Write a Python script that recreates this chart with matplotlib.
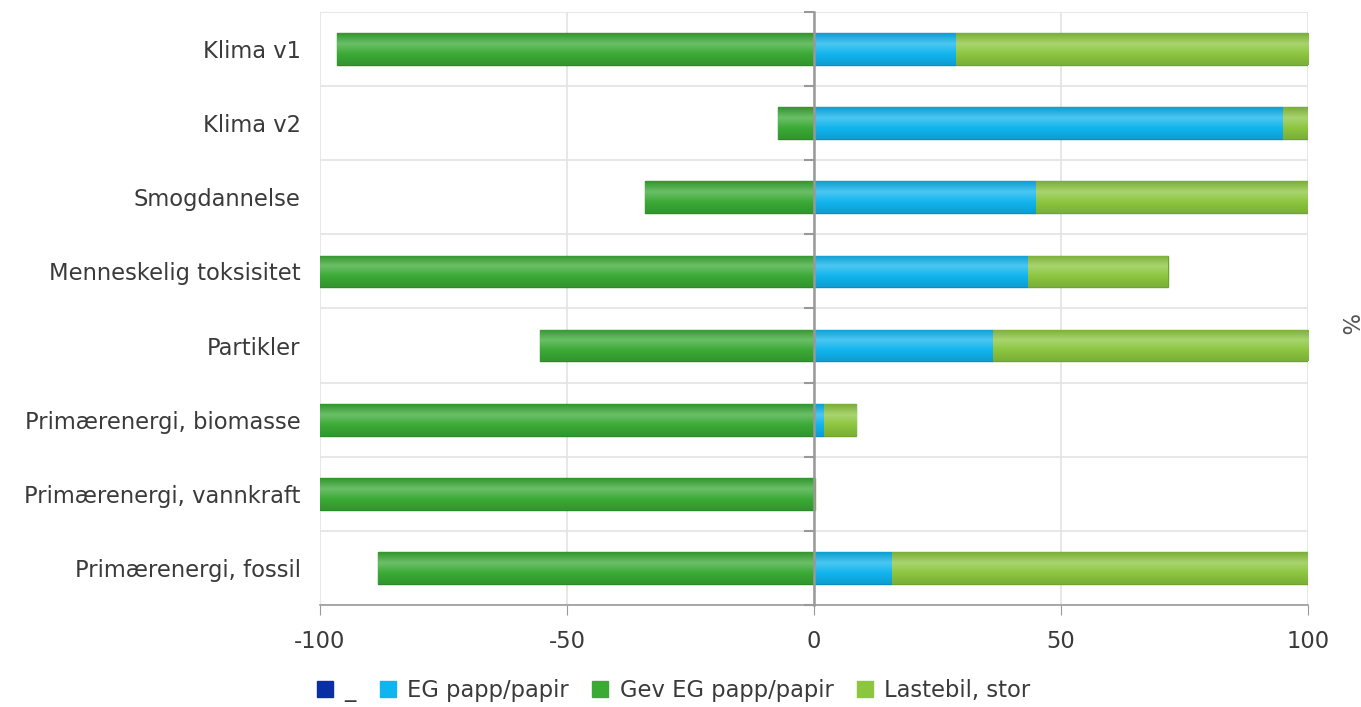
import numpy as np
import matplotlib
matplotlib.use("Agg")
import matplotlib.pyplot as plt
from matplotlib.colors import LinearSegmentedColormap, to_rgb
from matplotlib.lines import Line2D

plt.rcParams['font.family'] = ['DejaVu Sans']

categories = [
    "Klima v1",
    "Klima v2",
    "Smogdannelse",
    "Menneskelig toksisitet",
    "Partikler",
    "Primærenergi, biomasse",
    "Primærenergi, vannkraft",
    "Primærenergi, fossil",
]
series_names = ["_", "EG papp/papir", "Gev EG papp/papir", "Lastebil, stor"]
underscore_vals = [0, 0, 0, 0, 0, 0, 0, 0]
eg_papp = [28.7, 95.0, 45.0, 43.3, 36.2, 2.0, 0.0, 15.8]
gev_eg_papp = [-96.6, -7.3, -34.2, -100.0, -55.5, -100.0, -100.0, -88.3]
lastebil = [71.3, 5.0, 55.0, 28.3, 63.8, 6.5, 0.2, 84.2]
x_ticks = [-100, -50, 0, 50, 100]

colors = ["#0a2ea4", "#10b4ee", "#3aaa35", "#8cc63f"]
edge_colors = ["#071f70", "#0b8fc0", "#2b8a27", "#6fa52c"]

FS = 16.3
TXT = "#3a3a3a"

fig = plt.figure(figsize=(13.61, 7.07), dpi=100)
ax = fig.add_axes([0.2351, 0.1443, 0.9611 - 0.2351, 0.983 - 0.1443])

y = np.arange(len(categories))
h = 0.43


def shade(color):
    r, g, b = to_rgb(color)
    light = tuple(min(1, c + (1 - c) * 0.25) for c in (r, g, b))
    dark = tuple(c * 0.88 for c in (r, g, b))
    return LinearSegmentedColormap.from_list(
        "s", [dark, light, (r, g, b), dark])


def draw_bars(vals, left, color, edge):
    bars = ax.barh(y, vals, height=h, left=left, color=color,
                   edgecolor=edge, linewidth=1.0, zorder=3)
    cmap = shade(color)
    grad = np.linspace(0, 1, 64).reshape(-1, 1)
    for p in bars.patches:
        if abs(p.get_width()) < 1e-9:
            continue
        x0, y0 = p.get_x(), p.get_y()
        w, hh = p.get_width(), p.get_height()
        im = ax.imshow(grad, cmap=cmap, aspect="auto",
                       extent=[x0, x0 + w, y0 + hh, y0], zorder=3.5,
                       interpolation="bicubic")
        im.set_clip_path(p)
    return bars


pos_left = np.zeros(len(categories))
draw_bars(underscore_vals, pos_left, colors[0], edge_colors[0])
draw_bars(eg_papp, pos_left, colors[1], edge_colors[1])
draw_bars(gev_eg_papp, np.zeros(len(categories)), colors[2], edge_colors[2])
draw_bars(lastebil, pos_left + np.array(eg_papp), colors[3], edge_colors[3])

ax.set_xlim(-100, 100)
ax.set_ylim(len(categories) - 0.5, -0.5)

ax.set_xticks(x_ticks)
ax.set_xticklabels([str(t) for t in x_ticks])
ax.tick_params(axis="x", length=7, color="#9a9a9a", labelsize=FS,
               labelcolor=TXT, pad=11)

ax.set_yticks(y)
ax.set_yticklabels(categories)
ax.tick_params(axis="y", length=0, labelsize=FS, labelcolor=TXT, pad=14)

# grid: vertical at x ticks, horizontal at category boundaries
for t in x_ticks:
    ax.axvline(t, color="#e3e3e3", lw=1.2, zorder=1)
for b in np.arange(-0.5, len(categories), 1.0):
    ax.axhline(b, color="#e3e3e3", lw=1.2, zorder=1)

for s in ["top", "right", "left"]:
    ax.spines[s].set_visible(False)
ax.spines["bottom"].set_color("#9a9a9a")
ax.spines["bottom"].set_linewidth(1.2)

# zero axis with ticks at the category boundaries
sec = ax.secondary_yaxis(0.5)
sec.set_yticks(np.arange(-0.5, len(categories), 1.0))
sec.set_yticklabels([])
sec.tick_params(length=7, width=1.5, color="#999999", direction="in")
for s in sec.spines.values():
    s.set_color("#999999")
    s.set_linewidth(1.8)
sec.set_zorder(5)

fig.text(1347 / 1361, 1 - 325 / 707, "%", rotation=270, fontsize=FS,
         color="#555555", ha="center", va="center")

handles = [Line2D([], [], marker="s", linestyle="none", markersize=11,
                  markerfacecolor=c, markeredgecolor=c) for c in colors]
fig.legend(handles, series_names, loc="center", ncol=4,
           bbox_to_anchor=(0.494, 1 - 690 / 707), frameon=False,
           fontsize=FS, handletextpad=0.35, columnspacing=0.9,
           handlelength=1.0, labelcolor=TXT)

fig.savefig("out.png", dpi=100)
